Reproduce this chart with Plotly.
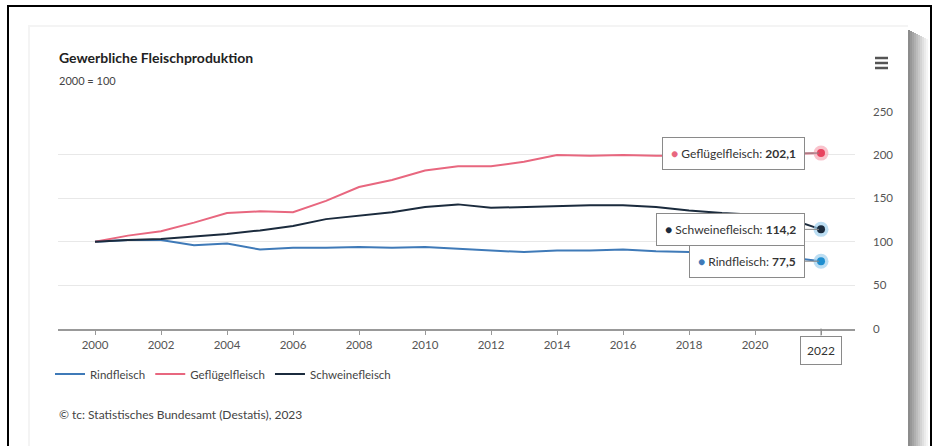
import plotly.graph_objects as go

years = list(range(2000, 2023))
rind = [100, 102, 102, 96, 98, 91, 93, 93, 94, 93, 94, 92, 90, 88, 90, 90, 91, 89, 88, 86, 84, 82, 77.5]
gefluegel = [100, 107, 112, 122, 133, 135, 134, 147, 163, 171, 182, 187, 187, 192, 200, 199, 200, 199, 199, 200, 201, 201, 202.1]
schwein = [100, 102, 103, 106, 109, 113, 118, 126, 130, 134, 140, 143, 139, 140, 141, 142, 142, 140, 136, 133, 131, 127, 114.2]

series = [
    ("Rindfleisch", rind, "#3f7ab8", "#1f8fd0"),
    ("Geflügelfleisch", gefluegel, "#e8677f", "#e8435f"),
    ("Schweinefleisch", schwein, "#1b2b3d", "#1b2b3d"),
]
y_ticks = [0, 50, 100, 150, 200, 250]
x_ticks = list(range(2000, 2023, 2))
x_ticktext = [str(t) if t != 2022 else "" for t in x_ticks]

W, H = 934, 446
FONT = "Lato"


def px(x):
    return x / W


def py(y):
    return 1 - y / H


fig = go.Figure()
for name, vals, col, _ in series:
    fig.add_trace(go.Scatter(x=years, y=vals, mode="lines", name=name,
                             line=dict(color=col, width=2), hoverinfo="skip"))

# hover markers at the last point
for name, vals, col, dot in series:
    fig.add_trace(go.Scatter(x=[years[-1]], y=[vals[-1]], mode="markers", showlegend=False,
                             marker=dict(size=15, color=("#f6a9b6" if name == "Geflügelfleisch" else "#9fd0ee"),
                                         opacity=0.7, line=dict(width=0)), hoverinfo="skip"))
    fig.add_trace(go.Scatter(x=[years[-1]], y=[vals[-1]], mode="markers", showlegend=False,
                             marker=dict(size=8, color=dot, line=dict(width=0)), hoverinfo="skip"))

shapes = []
# outer frame
shapes.append(dict(type="rect", xref="paper", yref="paper", x0=px(8), x1=px(931), y0=py(470), y1=py(6),
                   line=dict(color="black", width=2), fillcolor="white", layer="below"))
# card shadow (right gradient)
grays = ["#8c8c8c", "#989898", "#a4a4a4", "#b0b0b0", "#bcbcbc", "#c8c8c8", "#d4d4d4", "#e0e0e0", "#ebebeb", "#f5f5f5"]
for i, g in enumerate(grays):
    shapes.append(dict(type="rect", xref="paper", yref="paper", x0=px(908 + 2 * i), x1=px(910 + 2 * i),
                       y0=py(470), y1=py(30 + i), line=dict(width=0), fillcolor=g, layer="below"))
# faint card top/left shadow
shapes.append(dict(type="rect", xref="paper", yref="paper", x0=px(28), x1=px(908), y0=py(470), y1=py(25),
                   line=dict(width=0), fillcolor="#f4f4f4", layer="below"))
shapes.append(dict(type="rect", xref="paper", yref="paper", x0=px(30), x1=px(908), y0=py(470), y1=py(27),
                   line=dict(width=0), fillcolor="white", layer="below"))
# menu icon
for yy in (58, 63, 68):
    shapes.append(dict(type="line", xref="paper", yref="paper", x0=px(875), x1=px(888), y0=py(yy), y1=py(yy),
                       line=dict(color="#555555", width=2.5)))

annotations = []
annotations.append(dict(text="<b>Gewerbliche Fleischproduktion</b>", xref="paper", yref="paper",
                        x=px(57), y=py(58), xanchor="left", yanchor="middle", showarrow=False,
                        font=dict(family=FONT, size=14, color="#222222")))
annotations.append(dict(text="2000 = 100", xref="paper", yref="paper",
                        x=px(57), y=py(81), xanchor="left", yanchor="middle", showarrow=False,
                        font=dict(family=FONT, size=11, color="#444444")))
annotations.append(dict(text="© tc: Statistisches Bundesamt (Destatis), 2023", xref="paper", yref="paper",
                        x=px(57), y=py(414), xanchor="left", yanchor="middle", showarrow=False,
                        font=dict(family=FONT, size=12, color="#444444")))

# tooltips
for name, vals, col, dot in series:
    val = f"{vals[-1]:.1f}".replace(".", ",")
    annotations.append(dict(
        x=years[-1], y=vals[-1], xref="x", yref="y",
        text=f"<span style='color:{col}'>●</span> {name}: <b>{val}</b>",
        showarrow=True, arrowhead=0, arrowwidth=1, arrowcolor="#888888",
        ax=-16, ay=0, xanchor="right", yanchor="middle",
        bgcolor="white", bordercolor="#8a8a8a", borderwidth=1, borderpad=8,
        font=dict(family=FONT, size=12, color="#333333"), standoff=2))

# crosshair label
annotations.append(dict(x=years[-1], y=py(328.5), xref="x", yref="paper", text="2022",
                        showarrow=True, arrowhead=0, arrowwidth=1, arrowcolor="#888888",
                        ax=0, ay=7, xanchor="center", yanchor="top",
                        bgcolor="white", bordercolor="#8a8a8a", borderwidth=1, borderpad=6,
                        font=dict(family=FONT, size=12, color="#333333")))

x0_year = 2000 - (95 - 58) / 33
x1_year = 2022 + (855 - 821) / 33

fig.update_layout(
    template="none", autosize=False,
    width=W, height=H, margin=dict(l=0, r=0, t=0, b=0, pad=0),
    paper_bgcolor="white", plot_bgcolor="rgba(0,0,0,0)",
    font=dict(family=FONT, size=11, color="#555555"),
    shapes=shapes, annotations=annotations,
    showlegend=True,
    legend=dict(orientation="h", x=px(50), y=py(374), xanchor="left", yanchor="middle",
                font=dict(family=FONT, size=11.5, color="#444444"), bgcolor="rgba(0,0,0,0)",
                itemwidth=30, tracegroupgap=0),
    xaxis=dict(domain=[px(58), px(855)], range=[x0_year, x1_year], tickvals=x_ticks, ticktext=x_ticktext,
               showgrid=False, zeroline=False, showline=True, linecolor="#999999", linewidth=1.5,
               ticks="outside", ticklen=5, tickcolor="#999999", automargin=False,
               tickfont=dict(family=FONT, size=11.5, color="#555555"), fixedrange=True),
    yaxis=dict(domain=[py(328.5), py(111.5)], range=[0, 250], tickvals=y_ticks, side="right",
               showgrid=True, gridcolor="#e8e8e8", gridwidth=1, zeroline=False, showline=False,
               ticks="", ticklabelstandoff=17, automargin=False,
               tickfont=dict(family=FONT, size=11.5, color="#555555"), fixedrange=True),
)

fig.write_html("out.html", config={"displayModeBar": False})
